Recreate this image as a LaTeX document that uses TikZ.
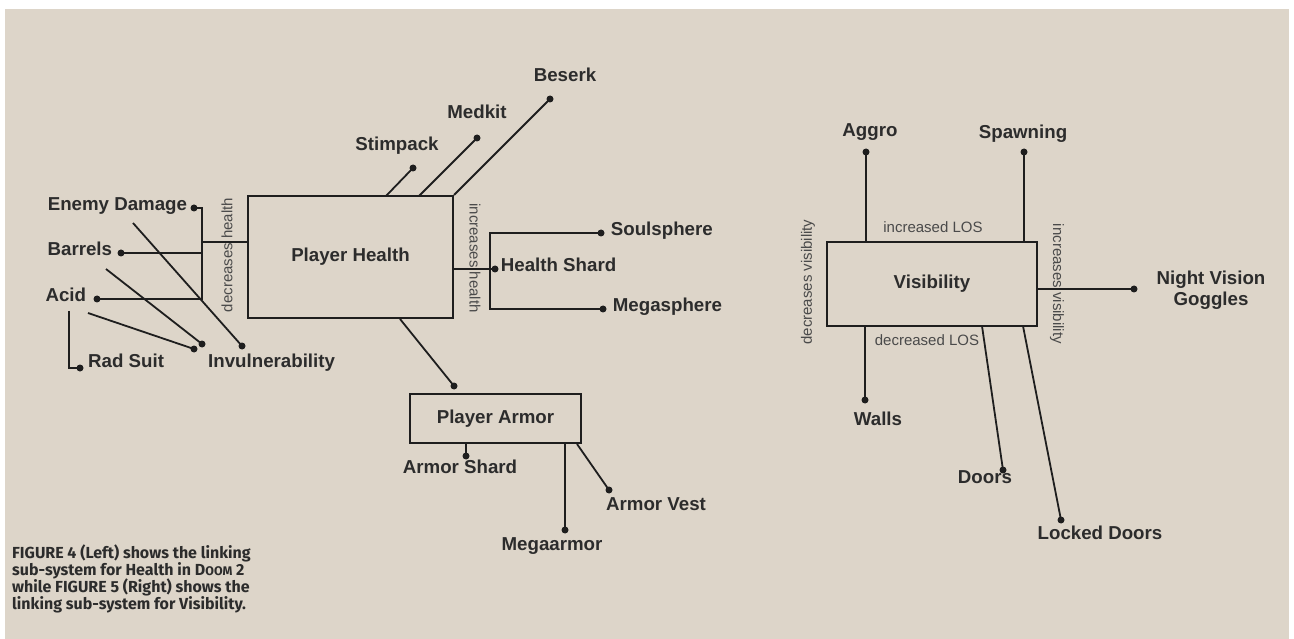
\documentclass[tikz,border=0pt]{standalone}
\usepackage{fontspec}
\setmainfont{Liberation Sans}
\newfontfamily\capfont{Fira Sans}[FakeStretch=1.0]
\usepackage{xcolor}
\usepackage{tikz}
\usetikzlibrary{positioning}
\definecolor{paper}{HTML}{DDD5C9}
\definecolor{ink}{HTML}{1E1E1E}
\definecolor{labelgray}{HTML}{2C2C2C}
\definecolor{notegray}{HTML}{4A4A4A}
\newcommand\captionfont{\capfont\bfseries\fontsize{16}{17}\selectfont\lineskiplimit-20pt\relax}

\begin{document}
\begin{tikzpicture}[x=1pt, y=-1pt,
	lbl/.style={font=\bfseries\fontsize{18.7}{21}\selectfont, text=labelgray, inner sep=0pt},
	note/.style={font=\fontsize{15}{17}\selectfont, text=notegray, inner sep=0pt},
	blob/.style={circle, fill=ink, inner sep=0pt, minimum size=7pt},
	sysbox/.style={draw=ink, line width=2pt, fill=paper, inner sep=0pt, font=\bfseries\fontsize{18.7}{21}\selectfont, text=labelgray},
	wire/.style={draw=ink, line width=1.8pt},
	capnote/.style={font=\captionfont, text=labelgray, inner sep=0pt, align=left}]
			% Page and background:
			\useasboundingbox (0,0) rectangle (1294,639);
			\fill[white] (0,0) rectangle (1294,639);
			\fill[paper] (5,9) rectangle (1289,639);
			% Health sub-system, boxes:
			\node[sysbox, minimum width=205pt, minimum height=122pt](health) at (350.5,257){Player Health};
			\node[sysbox, minimum width=171pt, minimum height=49pt](armor) at (495.5,418.5){Player Armor};
			% Health sub-system, dots:
			\node[blob](stim) at (413,168){};
			\node[blob](med) at (477,138){};
			\node[blob](bes) at (550,99){};
			\node[blob](soul) at (601,233){};
			\node[blob](hshard) at (495,269){};
			\node[blob](mega) at (603,309){};
			\node[blob](enemy) at (194,208){};
			\node[blob](barrel) at (121,253){};
			\node[blob](acid) at (97,299){};
			\node[blob](rad) at (80,368){};
			\node[blob](inv1) at (194,349){};
			\node[blob](inv2) at (202,344){};
			\node[blob](inv3) at (242,346){};
			\node[blob](arm) at (454,386){};
			\node[blob](ashard) at (466,456){};
			\node[blob](marmor) at (565,530){};
			\node[blob](avest) at (609,490){};
			% Health sub-system, end points:
			\coordinate (h-stim) at (386,196);
			\coordinate (h-med) at (419,196);
			\coordinate (h-dec) at (248,242);
			\coordinate (bus-l) at (202,242);
			\coordinate (bus-r) at (490,269);
			\coordinate (h-arm) at (400,319);
			\coordinate (ed-foot) at (133,223);
			\coordinate (br-foot) at (106,269);
			\coordinate (ac-foot) at (88,313);
			\coordinate (ac-rad) at (69,311);
			\coordinate (a-vest) at (577,444);
			% Health sub-system, wires:
			\draw[wire] (stim.center) -- (h-stim);
			\draw[wire] (med.center) -- (h-med);
			\draw[wire] (bes.center) -- (health.north east);
			\draw[wire] (health.east |- hshard) -- (hshard.center);
			\draw[wire] (soul.center) -| (bus-r) |- (mega.center);
			\draw[wire] (h-dec) -- (bus-l);
			\draw[wire] (enemy.center) -| (bus-l) |- (acid.center);
			\draw[wire] (barrel.center) -- (barrel.center -| bus-l);
			\draw[wire] (ed-foot) -- (inv3.center);
			\draw[wire] (br-foot) -- (inv2.center);
			\draw[wire] (ac-foot) -- (inv1.center);
			\draw[wire] (ac-rad) |- (rad.center);
			\draw[wire] (h-arm) -- (arm.center);
			\draw[wire] (armor.south -| ashard) -- (ashard.center);
			\draw[wire] (armor.south -| marmor) -- (marmor.center);
			\draw[wire] (a-vest) -- (avest.center);
			% Health sub-system, labels:
			\node[lbl, anchor=mid] (stim-l) at (397,148){Stimpack};
			\node[lbl, anchor=mid] (med-l) at (477,116){Medkit};
			\node[lbl, anchor=mid] (bes-l) at (565,79){Beserk};
			\node[lbl, right=6pt of soul, anchor=mid west] (soul-l){Soulsphere};
			\node[lbl, right=2pt of hshard, anchor=mid west] (hshard-l){Health Shard};
			\node[lbl, right=6pt of mega, anchor=mid west] (mega-l){Megasphere};
			\node[lbl, left=3pt of enemy, anchor=mid east] (enemy-l){Enemy Damage};
			\node[lbl, left=5pt of barrel, anchor=mid east] (barrel-l){Barrels};
			\node[lbl, left=7pt of acid, anchor=mid east] (acid-l){Acid};
			\node[lbl, anchor=mid west] (rad-l) at (88,365){Rad Suit};
			\node[lbl, anchor=mid west] (inv-l) at (208,365){Invulnerability};
			\node[lbl, anchor=mid] (ashard-l) at (460,471){Armor Shard};
			\node[lbl, anchor=mid] (marmor-l) at (552,548){Megaarmor};
			\node[lbl, anchor=mid] (avest-l) at (656,508){Armor Vest};
			\node[note, rotate=90] (dec-h) at (227,255){decreases health};
			\node[note, rotate=-90] (inc-h) at (475,258){increases health};
			% Visibility sub-system:
			\node[sysbox, minimum width=210pt, minimum height=84pt](vis) at (932,284){Visibility};
			\node[blob](aggro) at (866,152){};
			\node[blob](spawn) at (1024,152){};
			\node[blob](nvg) at (1134,289){};
			\node[blob](walls) at (865,400){};
			\node[blob](doors) at (1003,470){};
			\node[blob](locked) at (1061,520){};
			\coordinate (v-doors) at (982,326);
			\coordinate (v-locked) at (1023,326);
			\draw[wire] (aggro.center) -- (aggro.center |- vis.north);
			\draw[wire] (spawn.center) -- (spawn.center |- vis.north);
			\draw[wire] (vis.east |- nvg) -- (nvg.center);
			\draw[wire] (walls.center) -- (walls.center |- vis.south);
			\draw[wire] (v-doors) -- (doors.center);
			\draw[wire] (v-locked) -- (locked.center);
			\node[lbl, anchor=mid] (aggro-l) at (870,134){Aggro};
			\node[lbl, anchor=mid] (spawn-l) at (1023,136){Spawning};
			\node[lbl, align=center] (nvg-l) at (1211,290){Night Vision\\Goggles};
			\node[lbl, anchor=mid] (walls-l) at (878,423){Walls};
			\node[lbl, anchor=mid] (doors-l) at (985,481){Doors};
			\node[lbl, anchor=mid] (locked-l) at (1100,537){Locked Doors};
			\node[note] (inc-los) at (933,227){increased LOS};
			\node[note] (dec-los) at (927,340){decreased LOS};
			\node[note, rotate=90] (dec-v) at (808,282){decreases visibility};
			\node[note, rotate=-90] (inc-v) at (1057,284){increases visibility};
			% Caption:
			\node[capnote, anchor=north west] (caption) at (12,545){FIGURE 4 (Left) shows the linking\\sub-system for Health in D{\fontsize{12.5}{17}\selectfont OOM} 2\\while FIGURE 5 (Right) shows the\\linking sub-system for Visibility.};
		\end{tikzpicture}
\end{document}
